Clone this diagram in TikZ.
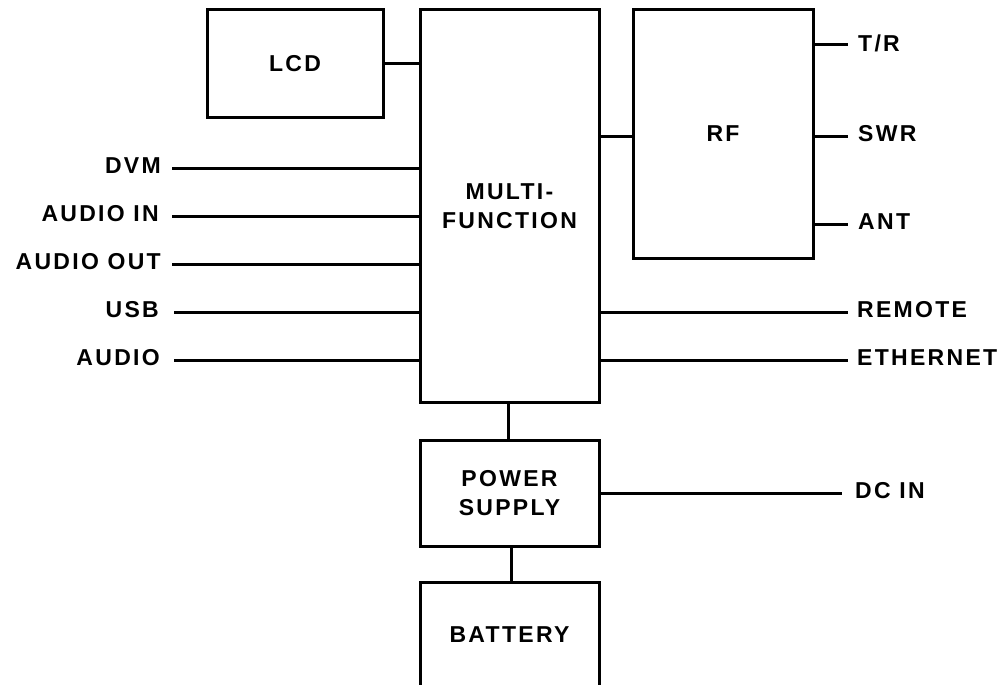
\documentclass[tikz,border=0pt]{standalone}
\usepackage{fontspec}
\setmainfont{Liberation Sans}[LetterSpace=10]
\begin{document}
\begin{tikzpicture}[x=1pt,y=-1pt,
  blk/.style={draw=black, line width=3pt, rectangle, inner sep=0pt, align=center,
    font=\fontsize{23}{29.5}\selectfont\bfseries},
  lbl/.style={inner sep=0pt, font=\fontsize{23}{29}\selectfont\bfseries},
  wire/.style={line width=3pt}]
\useasboundingbox (0,0) rectangle (1001,685);
\clip (0,0) rectangle (1001,685);
% blocks
\node[blk, minimum width=176pt, minimum height=107pt] (lcd) at (295,63.5) {LCD};
\node[blk, minimum width=179pt, minimum height=392pt] (multi) at (509.5,206) {MULTI-\\FUNCTION};
\node[blk, minimum width=180pt, minimum height=248pt] (rf) at (723,134) {RF};
\node[blk, minimum width=179pt, minimum height=106pt] (power) at (509.5,493) {POWER\\SUPPLY};
\node[blk, minimum width=179pt, minimum height=106pt] (battery) at (509.5,635) {BATTERY};
% left labels
\node[lbl, anchor=east] (dvm) at (161,166) {DVM};
\node[lbl, anchor=east] (ain) at (159,214) {AUDIO IN};
\node[lbl, anchor=east] (aout) at (161,262) {AUDIO OUT};
\node[lbl, anchor=east] (usb) at (159,310) {USB};
\node[lbl, anchor=east] (audio) at (160,358) {AUDIO};
\coordinate (dvmL) at (172,168);
\coordinate (ainL) at (172,216);
\coordinate (aoutL) at (172,264);
\coordinate (usbL) at (174,312);
\coordinate (audioL) at (174,360);
\foreach \c in {dvmL,ainL,aoutL,usbL,audioL}
  \draw[wire] (\c) -- (\c -| multi.west);
% right labels
\node[lbl, anchor=west] (tr) at (858,43) {T/R};
\node[lbl, anchor=west] (swr) at (858,134) {SWR};
\node[lbl, anchor=west] (ant) at (858,222) {ANT};
\node[lbl, anchor=west] (remote) at (857,310) {REMOTE};
\node[lbl, anchor=west] (eth) at (857,358) {ETHERNET};
\node[lbl, anchor=west] (dcin) at (855,491) {DC IN};
\coordinate (trE) at (848,45);
\coordinate (swrE) at (848,136);
\coordinate (antE) at (848,224);
\coordinate (remE) at (848,312);
\coordinate (ethE) at (848,360);
\coordinate (dcE) at (842,493);
\foreach \c in {trE,swrE,antE}
  \draw[wire] (\c -| rf.east) -- (\c);
\foreach \c in {remE,ethE}
  \draw[wire] (\c -| multi.east) -- (\c);
\draw[wire] (dcE -| power.east) -- (dcE);
% block links
\draw[wire] (lcd.east) -- (lcd.east -| multi.west);
\coordinate (mrf) at (0,136);
\draw[wire] (mrf -| multi.east) -- (mrf -| rf.west);
\coordinate (mp) at (508,0);
\draw[wire] (multi.south -| mp) -- (power.north -| mp);
\coordinate (pb) at (511,0);
\draw[wire] (power.south -| pb) -- (battery.north -| pb);
\end{tikzpicture}
\end{document}
